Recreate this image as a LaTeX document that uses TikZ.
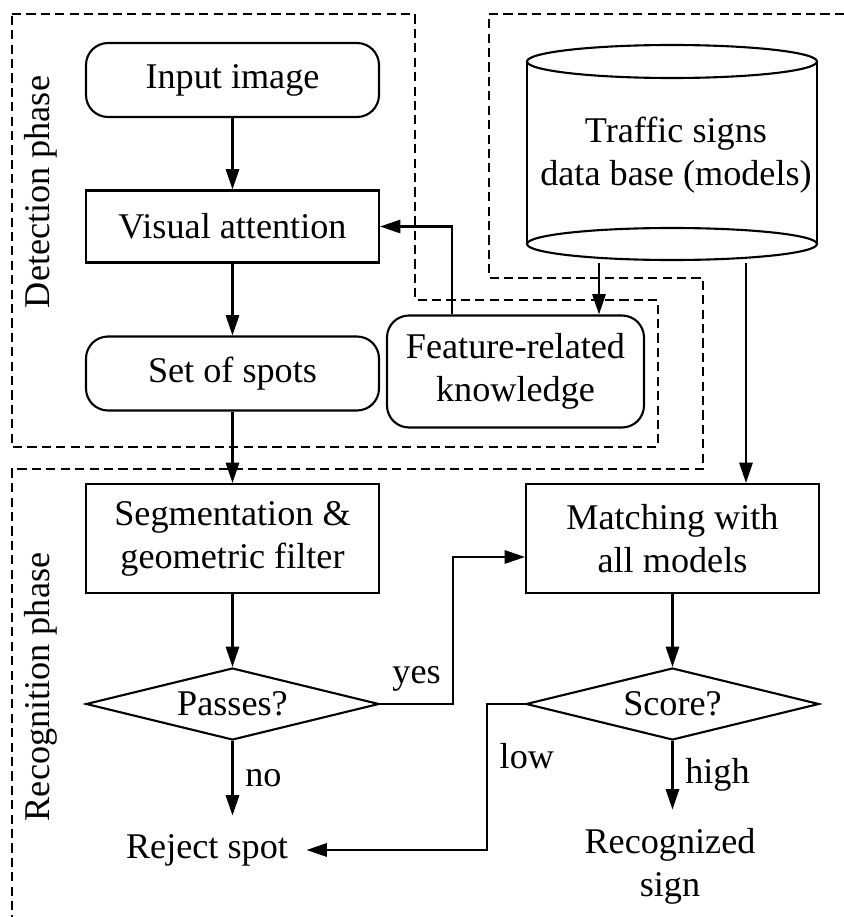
\documentclass[tikz,border=0pt]{standalone}
\usepackage{fontspec}
\setmainfont{Liberation Serif}
\usetikzlibrary{shapes.geometric,arrows.meta}
\begin{document}
\begin{tikzpicture}[
        font=\fontsize{10.3}{12.2}\selectfont,
        line width=0.6pt,
        >={Triangle[length=5.8pt,width=3.8pt]},
        phase/.style={dash pattern=on 2.6pt off 1.5pt},
        terminal/.style={draw, rounded corners=0.22cm, minimum width=2.93cm, minimum height=0.74cm, align=center},
        process/.style={draw, minimum width=2.93cm, minimum height=0.73cm, align=center},
        decision/.style={draw, diamond, aspect=4, inner sep=0pt, minimum width=2.93cm, minimum height=0.72cm},
        result/.style={inner sep=5pt, align=center}
    ]
            \useasboundingbox (0, 0) rectangle (8.44, 9.17);

            \draw[phase] (0.12, 9.03) -- (4.15, 9.03) -- (4.15, 6.17) -- (6.58, 6.17) -- (6.58, 4.70) -- (0.12, 4.70) -- cycle;
            \draw[phase] (8.44, 9.03) -- (4.89, 9.03) -- (4.89, 6.39) -- (7.03, 6.39) -- (7.03, 4.48) -- (0.12, 4.48) -- (0.12, 0);
            \node[rotate=90] (detlabel) at (0.41, 7.25) {Detection phase};
            \node[rotate=90] (reclabel) at (0.41, 2.30) {Recognition phase};

            \node[terminal] (input) at (2.325, 8.37) {Input image};
            \node[process, minimum height=0.72cm] (visatt) at (2.325, 6.905) {Visual attention};
            \node[terminal] (spots) at (2.325, 5.435) {Set of spots};
            \node[terminal, minimum width=2.57cm, minimum height=1.12cm] (feat) at (5.155, 5.455) {Feature-related\\knowledge};

            \draw (6.72, 8.555) ellipse[x radius=1.45, y radius=0.165];
            \draw (6.72, 6.73) ellipse[x radius=1.45, y radius=0.16];
            \draw (5.27, 8.555) -- (5.27, 6.73);
            \draw (8.17, 8.555) -- (8.17, 6.73);
            \node[align=center] (db) at (6.76, 7.62) {Traffic signs\\data base (models)};
            \coordinate (db1) at (5.99, 6.54);
            \coordinate (db2) at (7.46, 6.54);

            \node[process, minimum height=1.09cm] (segm) at (2.325, 3.785) {Segmentation \&\\geometric filter};
            \node[process, minimum height=1.09cm] (match) at (6.725, 3.785) {Matching with\\all models};
            \node[decision] (passes) at (2.325, 2.13) {Passes?};
            \node[decision] (score) at (6.725, 2.13) {Score?};
            \node[result] (reject) at (2.07, 0.67) {Reject spot};
            \node[result] (recog) at (6.70, 0.51) {Recognized\\sign};

            \draw[->] (input) -- (visatt);
            \draw[->] (visatt) -- (spots);
            \draw[->] ([xshift=-0.635cm]feat.north) |- (visatt.east);
            \draw[->] (db1) -- (db1 |- feat.north);
            \draw[->] (db2) -- (db2 |- match.north);
            \draw[->] (spots) -- (segm);
            \draw[->] (segm) -- (passes);
            \draw[->] (match) -- (score);
            \draw[->] (passes.east) -- node[above] {yes} ++(0.73, 0) |- ([yshift=-0.185cm]match.west);
            \draw[->] (passes.south) -- node[right] {no} (passes.south |- reject.north);
            \draw[->] (score.west) -- ++(-0.38, 0) |- node[right, pos=0.18] {low} (reject.east);
            \draw[->] (score.south) -- node[right] {high} (score.south |- recog.north);
        \end{tikzpicture}
\end{document}
